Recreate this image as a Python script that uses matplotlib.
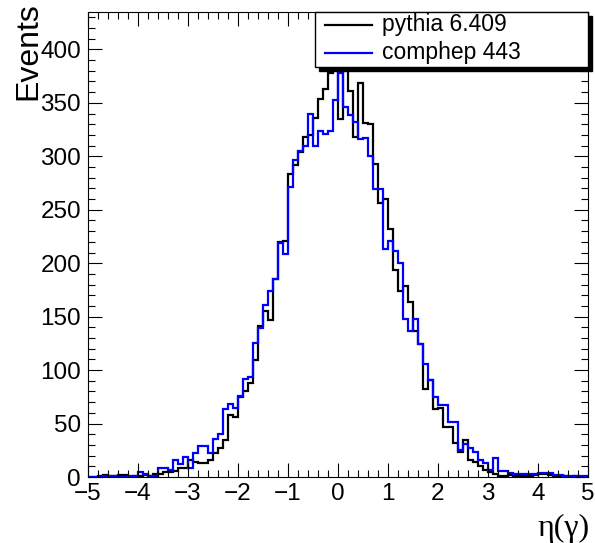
import numpy as np
import matplotlib
matplotlib.use("Agg")
import matplotlib.pyplot as plt
from matplotlib.patches import Rectangle
from matplotlib.lines import Line2D
from matplotlib.ticker import MultipleLocator

plt.rcParams['font.family'] = ['Liberation Sans', 'DejaVu Sans']

# 100 bins of width 0.1 from -5 to 5
edges = np.linspace(-5, 5, 101)

pythia = [
    0, 0, 1, 2, 1, 1, 2, 2, 0, 1,            # -5.0 .. -4.1
    1, 2, 1, 3, 3, 5, 5, 6, 8, 8,            # -4.0 .. -3.1
    16, 14, 13, 13, 16, 22, 27, 35, 58, 56,  # -3.0 .. -2.1
    75, 80, 88, 109, 141, 155, 147, 185, 220, 221,   # -2.0 .. -1.1
    283, 292, 304, 318, 320, 336, 354, 363, 378, 398,  # -1.0 .. -0.1
    335, 413, 361, 318, 369, 331, 330, 293, 256, 260,  # 0.0 .. 0.9
    232, 194, 174, 179, 164, 137, 124, 82, 91, 64,     # 1.0 .. 1.9
    65, 47, 47, 32, 23, 35, 16, 14, 10, 7,            # 2.0 .. 2.9
    5, 3, 1, 1, 2, 1, 1, 1, 1, 2,                     # 3.0 .. 3.9
    3, 3, 2, 1, 1, 1, 0, 1, 0, 0,                     # 4.0 .. 4.9
]

comphep = [
    0, 0, 0, 1, 1, 1, 0, 0, 1, 1,
    5, 3, 1, 1, 8, 8, 7, 16, 12, 19,
    8, 22, 29, 29, 22, 36, 40, 64, 68, 65,
    76, 92, 94, 125, 139, 161, 174, 185, 219, 209,
    271, 297, 305, 310, 340, 310, 324, 321, 324, 353,
    378, 346, 339, 332, 316, 317, 300, 269, 269, 213,
    221, 211, 200, 148, 137, 148, 124, 106, 91, 75,
    67, 67, 51, 51, 25, 31, 27, 23, 16, 13,
    7, 18, 6, 6, 4, 3, 3, 3, 3, 3,
    4, 4, 4, 2, 2, 1, 1, 1, 1, 1,
]

labels = ['pythia 6.409', 'comphep 443']
colors = ['black', '#0000ff']

fig = plt.figure(figsize=(5.95, 5.43), dpi=100)
ax = fig.add_axes([88 / 595, 66 / 543, 500 / 595, 465 / 543])

ax.stairs(pythia, edges, color=colors[0], lw=1.6)
ax.stairs(comphep, edges, color=colors[1], lw=1.6)

ax.set_xlim(-5, 5)
ax.set_ylim(0, 435)
ax.xaxis.set_major_locator(MultipleLocator(1))
ax.xaxis.set_minor_locator(MultipleLocator(0.2))
ax.yaxis.set_major_locator(MultipleLocator(50))
ax.yaxis.set_minor_locator(MultipleLocator(10))
ax.tick_params(which='both', direction='in', top=True, right=True,
               labelsize=17.5, width=0.8)
ax.tick_params(which='major', length=10)
ax.tick_params(which='minor', length=5)
ax.tick_params(axis='x', pad=4)
ax.tick_params(axis='y', pad=5)
for s in ax.spines.values():
    s.set_linewidth(0.8)

fig.text(28 / 595, 1 - 2 / 543, 'Events', rotation=90, ha='center',
         va='top', fontsize=23)
fig.text(590 / 595, 1 - 528 / 543, 'η(γ)', ha='right', va='center',
         fontsize=23, family=['Liberation Serif', 'DejaVu Serif'])

# ROOT style legend box with shadow
lx0, ly0 = (315 - 88) / 500, (477 - 67) / 465
lw_, lh_ = 1.0 - lx0, 1.0 - ly0
ax.add_patch(Rectangle((lx0 + 0.007, ly0 - 0.008), lw_, lh_,
                       transform=ax.transAxes, facecolor='black',
                       edgecolor='black', clip_on=False, zorder=5))
ax.add_patch(Rectangle((lx0, ly0), lw_, lh_, transform=ax.transAxes,
                       facecolor='white', edgecolor='black', lw=1,
                       clip_on=False, zorder=6))
for i, (lab, c) in enumerate(zip(labels, colors)):
    yy = (477 - (25 + 28 * i)) / 465
    ax.add_line(Line2D([(325 - 88) / 500, (372 - 88) / 500], [yy, yy],
                       transform=ax.transAxes, color=c, lw=1.6,
                       clip_on=False, zorder=7))
    ax.text((382 - 88) / 500, yy, lab, transform=ax.transAxes,
            va='center', ha='left', fontsize=16.5, zorder=7)

fig.savefig('out.png', dpi=100)
